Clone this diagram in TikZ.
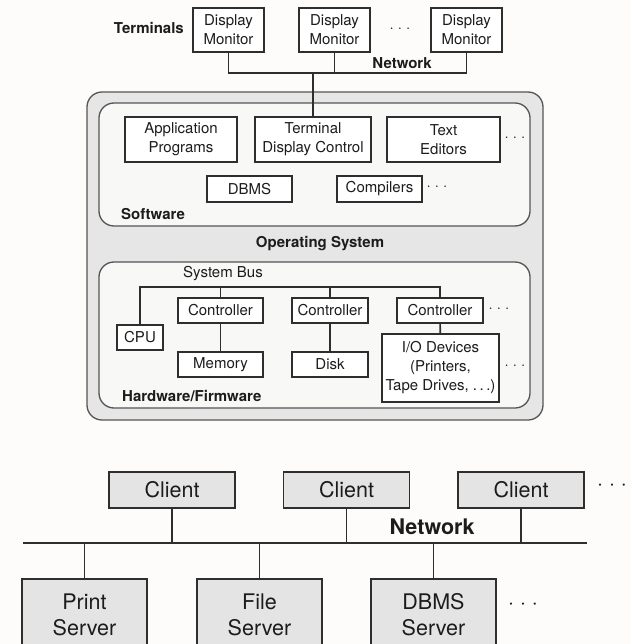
\documentclass[tikz,border=0pt]{standalone}
\usepackage{fontspec}
\setmainfont{TeX Gyre Heros}
\definecolor{ink}{HTML}{1C1C1C}
\definecolor{linegray}{HTML}{2E2E2E}
\definecolor{frame}{HTML}{555555}
\definecolor{osfill}{HTML}{E6E6E6}
\definecolor{layerfill}{HTML}{F8F8F7}
\definecolor{boxfill}{HTML}{E4E4E4}
\definecolor{paper}{HTML}{FDFCFB}
\begin{document}
\begin{tikzpicture}[x=1pt,y=-1pt,
  wire/.style={draw=linegray, line width=1.7pt},
  lowwire/.style={draw=linegray, line width=1.5pt},
  box/.style={draw=linegray, line width=1.7pt, fill=white, inner sep=0pt,
    align=center, text=ink, font=\fontsize{15}{19}\selectfont},
  bigbox/.style={draw=linegray, line width=1.5pt, fill=boxfill, inner sep=0pt,
    align=center, text=ink, font=\fontsize{21.5}{26}\selectfont},
  label/.style={inner sep=0pt, text=ink, font=\fontsize{15}{19}\selectfont\bfseries},
  plain/.style={inner sep=0pt, text=ink, font=\fontsize{15}{19}\selectfont},
  etc/.style={inner sep=0pt, text=ink, font=\fontsize{15}{19}\selectfont},
  bigetc/.style={inner sep=0pt, text=ink, font=\fontsize{21.5}{26}\selectfont},
  layer/.style={draw=frame, line width=1.3pt, rounded corners=15pt}
]
\fill[paper] (0,0) rectangle (631,644);
\clip (0,0) rectangle (631,644);

% ---------- terminals ----------
\node[label, anchor=east] (terms) at (184,28) {Terminals};
\node[box, minimum width=71, minimum height=44] (d1) at (228.5,30) {Display\\Monitor};
\node[box, minimum width=71, minimum height=44] (d2) at (334.5,30) {Display\\Monitor};
\node[box, minimum width=71, minimum height=44] (d3) at (466.5,30) {Display\\Monitor};
\node[etc] (tdots) at (400,30) {· · ·};
\node[label] (tnet) at (402,63) {Network};
\coordinate (tbus) at (0,73);

% ---------- operating system ----------
\draw[layer, fill=osfill] (87,92) rectangle (543,420);
\draw[layer, fill=layerfill] (99,103) rectangle (530,226);
\draw[layer, fill=layerfill] (99,262) rectangle (530,408);

\node[box, minimum width=112, minimum height=45] (app) at (181,139.5) {Application\\Programs};
\node[box, minimum width=116, minimum height=45] (tdc) at (313,139.5) {Terminal\\Display Control};
\node[box, minimum width=113, minimum height=45] (ted) at (443.5,139.5) {Text\\Editors};
\node[etc] (sdots1) at (515,139) {· · ·};
\node[box, minimum width=85, minimum height=26] (dbms) at (249.5,189) {DBMS};
\node[box, minimum width=85, minimum height=26] (comp) at (379.5,189) {Compilers};
\node[etc] (sdots2) at (437,188) {· · ·};
\node[label, anchor=west] (sw) at (121,214) {Software};
\node[label] (os) at (320,244) {Operating System};

\draw[wire] (d1.south) -- (d1.south |- tbus) -- (d3.south |- tbus) -- (d3.south);
\draw[wire] (d2.south) -- (d2.south |- tbus);
\draw[wire] (tdc.north |- tbus) -- (tdc.north);

% ---------- hardware ----------
\node[plain] (sbus) at (223,274) {System Bus};
\coordinate (hbus) at (0,287);
\node[box, minimum width=46, minimum height=25] (cpu) at (140,337.5) {CPU};
\node[box, minimum width=85, minimum height=25] (c1) at (220.5,310.5) {Controller};
\node[box, minimum width=85, minimum height=25] (mem) at (220.5,364.5) {Memory};
\node[box, minimum width=76, minimum height=25] (c2) at (330,310.5) {Controller};
\node[box, minimum width=76, minimum height=25] (disk) at (330,364.5) {Disk};
\node[box, minimum width=86, minimum height=25] (c3) at (440,310.5) {Controller};
\node[box, minimum width=117, minimum height=68] (io) at (440.5,368) {I/O Devices\\(Printers,\\Tape Drives, .\,.\,.)};
\node[etc] (hdots1) at (499,310) {· · ·};
\node[etc] (hdots2) at (515,367) {· · ·};
\node[label, anchor=west] (hw) at (122,396) {Hardware/Firmware};

\draw[wire] (cpu.north) -- (cpu.north |- hbus) -- (c3.north |- hbus) -- (c3.north);
\draw[wire] (c1.north |- hbus) -- (c1.north);
\draw[wire] (c2.north |- hbus) -- (c2.north);
\draw[wire] (c1) -- (mem);
\draw[wire] (c2) -- (disk);
\draw[wire] (c3) -- (io);

% ---------- client / server network ----------
\node[bigbox, minimum width=126, minimum height=36] (cl1) at (172,490) {Client};
\node[bigbox, minimum width=126, minimum height=36] (cl2) at (346.5,490) {Client};
\node[bigbox, minimum width=126, minimum height=36] (cl3) at (521,490) {Client};
\node[bigetc] (cdots) at (612,487) {· · ·};
\node[label, font=\fontsize{21.5}{26}\selectfont\bfseries] (bnet) at (432,527) {Network};
\coordinate (netL) at (23,543);
\coordinate (netR) at (587,543);
\draw[lowwire] (netL) -- (netR);

\node[bigbox, minimum width=125, minimum height=72] (ps) at (84.5,615) {Print\\Server};
\node[bigbox, minimum width=125, minimum height=72] (fs) at (259.5,615) {File\\Server};
\node[bigbox, minimum width=125, minimum height=72] (ds) at (433.5,615) {DBMS\\Server};
\node[bigetc] (sdots) at (523,606) {· · ·};

\foreach \n in {cl1,cl2,cl3} \draw[lowwire] (\n.south) -- (\n.south |- netL);
\foreach \n in {ps,fs,ds} \draw[lowwire] (\n.north) -- (\n.north |- netL);
\end{tikzpicture}
\end{document}
